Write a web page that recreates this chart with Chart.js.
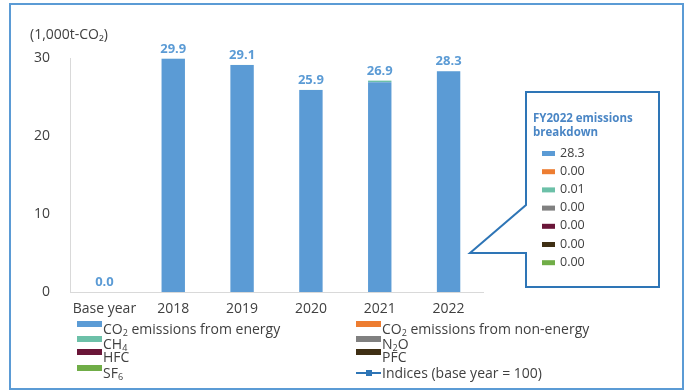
<!DOCTYPE html>
<html>
<head>
<meta charset="utf-8">
<script src="https://cdn.jsdelivr.net/npm/chart.js@4"></script>
<style>
  html, body { margin:0; padding:0; background:#fff; }
  #wrap { position:relative; width:690px; height:392px; }
  #legend { position:absolute; left:0; top:0; width:690px; height:392px; pointer-events:none;
    font-family:"Open Sans", sans-serif; font-size:14px; color:#404040; }
  .item { position:absolute; height:16px; line-height:16px; white-space:nowrap; }
  .item .box { position:absolute; left:0; top:0; width:25px; height:6px; }
  .item .line { position:absolute; left:0; top:7px; width:25px; height:2px; }
  .item .line i { position:absolute; left:10px; top:-2px; width:6px; height:6px; }
  .item span { position:absolute; left:26px; top:0; }
  sub { font-size:9px; vertical-align:-2px; line-height:0; }
</style>
</head>
<body>
<div id="wrap">
  <canvas id="emChart" width="690" height="392"></canvas>
  <div id="legend"></div>
</div>
<script>
// values
const categories = ['Base year', '2018', '2019', '2020', '2021', '2022'];
const co2Energy    = [0, 29.9, 29.1, 25.9, 26.9, 28.3];
const co2NonEnergy = [0, 0, 0, 0, 0, 0];
const ch4          = [0, 0.01, 0.01, 0.01, 0.2, 0.01];
const n2o          = [0, 0, 0, 0, 0, 0];
const hfc          = [0, 0, 0, 0, 0, 0];
const pfc          = [0, 0, 0, 0, 0, 0];
const sf6          = [0, 0, 0, 0, 0, 0];
const indices      = [null, null, null, null, null, null];
const totals       = [0.0, 29.9, 29.1, 25.9, 26.9, 28.3];
const yTicks = [0, 10, 20, 30];

const seriesNames = [
  'CO<sub>2</sub> emissions from energy',
  'CO<sub>2</sub> emissions from non-energy',
  'CH<sub>4</sub>',
  'N<sub>2</sub>O',
  'HFC',
  'PFC',
  'SF<sub>6</sub>',
  'Indices (base year = 100)'
];
const colors = ['#5B9BD5', '#ED7D31', '#6CC0A8', '#808080', '#6A1538', '#3F2F14', '#70AD47', '#2E75B6'];
const barSeries = [co2Energy, co2NonEnergy, ch4, n2o, hfc, pfc, sf6];

const FONT = '"Open Sans", sans-serif';
const TXT = '#404040';

const frame = {
  id: 'frame',
  beforeDraw(chart){
    const c = chart.ctx;
    c.save();
    c.fillStyle = '#fff';
    c.fillRect(0, 0, chart.width, chart.height);
    c.strokeStyle = '#5B9BD5';
    c.lineWidth = 2;
    c.strokeRect(10, 4, 673, 385);
    c.fillStyle = TXT;
    c.font = '14px ' + FONT;
    c.textBaseline = 'middle';
    c.textAlign = 'left';
    c.fillText('(1,000t-CO\u2082)', 30, 35);
    c.restore();
  }
};

const totalLabels = {
  id: 'totalLabels',
  afterDatasetsDraw(chart){
    const c = chart.ctx, xs = chart.scales.x, ys = chart.scales.y;
    c.save();
    c.fillStyle = '#5B9BD5';
    c.font = 'bold 13px ' + FONT;
    c.textAlign = 'center';
    c.textBaseline = 'bottom';
    totals.forEach((t, i) => {
      let sum = 0;
      barSeries.forEach(s => sum += s[i]);
      c.fillText(t.toFixed(1), xs.getPixelForValue(i), ys.getPixelForValue(sum) - 3);
    });
    c.restore();
  }
};

const callout = {
  id: 'callout',
  afterDraw(chart){
    const c = chart.ctx;
    const last = categories.length - 1;
    c.save();
    c.strokeStyle = '#2E75B6';
    c.lineWidth = 2;
    c.beginPath();
    c.moveTo(526, 205);
    c.lineTo(526, 92);
    c.lineTo(659, 92);
    c.lineTo(659, 287);
    c.lineTo(526, 287);
    c.lineTo(526, 253);
    c.lineTo(470, 253);
    c.lineTo(526, 205);
    c.closePath();
    c.fillStyle = '#fff';
    c.fill();
    c.stroke();
    c.fillStyle = '#4A86C5';
    c.font = 'bold 11.5px ' + FONT;
    c.textAlign = 'left';
    c.textBaseline = 'middle';
    c.fillText('FY2022 emissions', 533, 119);
    c.fillText('breakdown', 533, 133);
    c.font = '12.5px ' + FONT;
    barSeries.forEach((s, k) => {
      const y = 153 + k * 18.2;
      c.fillStyle = colors[k];
      c.fillRect(542, y - 2, 13, 5);
      c.fillStyle = TXT;
      c.fillText(k === 0 ? s[last].toFixed(1) : s[last].toFixed(2), 560, y);
    });
    c.restore();
  }
};

const datasets = barSeries.map((s, k) => ({
  type: 'bar',
  label: seriesNames[k],
  data: s,
  backgroundColor: colors[k],
  borderWidth: 0,
  stack: 'em',
  categoryPercentage: 1,
  barPercentage: 0.34,
  order: 2
}));
datasets.push({
  type: 'line',
  label: seriesNames[7],
  data: indices,
  borderColor: colors[7],
  backgroundColor: colors[7],
  pointStyle: 'rect',
  order: 1
});

new Chart(document.getElementById('emChart'), {
  type: 'bar',
  data: { labels: categories, datasets: datasets },
  options: {
    responsive: false,
    animation: false,
    layout: { padding: { left: 0, top: 58, right: 207, bottom: 70 } },
    plugins: { legend: { display: false }, tooltip: { enabled: false } },
    scales: {
      x: {
        stacked: true,
        grid: { display: false },
        border: { display: true, color: '#D9D9D9', width: 1 },
        ticks: { color: TXT, font: { family: FONT, size: 14 }, padding: 1, maxRotation: 0 },
        afterFit(s){ s.height = 30; }
      },
      y: {
        stacked: true,
        min: 0, max: 30,
        afterBuildTicks(s){ s.ticks = yTicks.map(v => ({ value: v })); },
        grid: { display: false, drawTicks: false },
        border: { display: true, color: '#D9D9D9', width: 1 },
        ticks: { color: TXT, font: { family: FONT, size: 14 }, padding: 20 },
        afterFit(s){ s.width = 70; }
      }
    }
  },
  plugins: [frame, totalLabels, callout]
});

// legend in two columns, as in the reference
const legend = document.getElementById('legend');
const rowTop = [321, 336, 349, 365];
seriesNames.forEach((name, k) => {
  const row = Math.floor(k / 2), col = k % 2;
  const el = document.createElement('div');
  el.className = 'item';
  el.style.left = (col === 0 ? 77 : 356) + 'px';
  el.style.top = rowTop[row] + 'px';
  const mark = k < 7
    ? '<div class="box" style="background:' + colors[k] + '"></div>'
    : '<div class="line" style="background:' + colors[k] + '"><i style="background:' + colors[k] + '"></i></div>';
  el.innerHTML = mark + '<span>' + name + '</span>';
  legend.appendChild(el);
});
</script>
</body>
</html>
